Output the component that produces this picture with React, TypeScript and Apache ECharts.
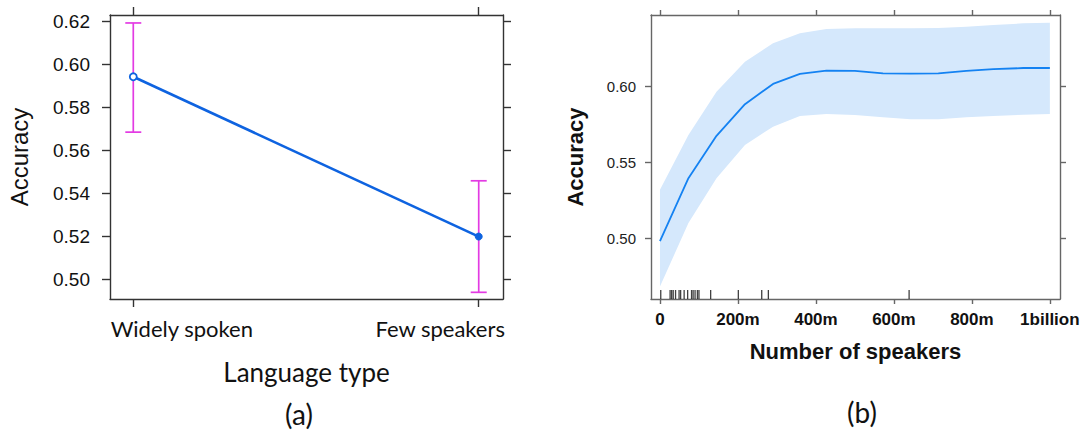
import React, { useEffect, useRef } from 'react';
import * as echarts from 'echarts';

// ---------- Panel (a): accuracy by language type ----------
const categories = ['Widely spoken', 'Few speakers'];
const catAccuracy = [0.5942, 0.52];
const catLower = [0.5685, 0.4941];
const catUpper = [0.6192, 0.5459];
const leftYTicks = [0.5, 0.52, 0.54, 0.56, 0.58, 0.6, 0.62];

// ---------- Panel (b): accuracy by number of speakers (millions) ----------
const speakers = [0, 73, 145, 218, 290, 359, 427, 500, 572, 643, 714, 786, 855, 932, 1000];
const fit = [0.498, 0.5396, 0.5675, 0.5884, 0.6018, 0.6084, 0.6106, 0.6104, 0.6088, 0.6086, 0.6088, 0.6104, 0.6115, 0.6123, 0.6123];
const fitUpper = [0.5319, 0.5681, 0.5967, 0.6165, 0.6286, 0.6352, 0.6381, 0.6385, 0.6385, 0.6385, 0.6387, 0.6395, 0.6407, 0.6418, 0.6422];
const fitLower = [0.4681, 0.5099, 0.5396, 0.5615, 0.5736, 0.5807, 0.582, 0.5813, 0.5798, 0.5785, 0.5785, 0.5798, 0.5807, 0.5815, 0.582];
const rugSpeakers = [2, 26, 30, 34, 40, 49, 53, 62, 71, 81, 85, 90, 96, 100, 130, 201, 261, 278, 639];
const rightYTicks = [0.5, 0.55, 0.6];
const rightXTicks = [0, 200, 400, 600, 800, 1000];
const rightXLabels = ['0', '200m', '400m', '600m', '800m', '1billion'];

const LEFT_Y_MIN = 0.491;
const LEFT_Y_MAX = 0.6229;
const RIGHT_Y_MIN = 0.4598;
const RIGHT_Y_MAX = 0.6473;

const ARIAL = '"Liberation Sans", Arial, sans-serif';
const CAL = 'Lato, "Open Sans", sans-serif';

export default function App() {
  const ref = useRef<HTMLDivElement>(null);

  useEffect(() => {
    document.body.style.margin = '0';
    if (!ref.current) return;
    const chart = echarts.init(ref.current, null, { renderer: 'svg' });

    const boxA = { color: '#333', width: 1.4 };
    const boxB = { color: '#666', width: 1.4 };

    const option: any = {
      animation: false,
      backgroundColor: '#ffffff',
      grid: [
        { left: 110, top: 15, width: 393, height: 284 },
        { left: 651, top: 15, width: 409, height: 284 },
      ],
      xAxis: [
        {
          gridIndex: 0,
          type: 'value',
          position: 'bottom',
          min: -0.0674,
          max: 1.0703,
          axisLine: { show: true, onZero: false, lineStyle: boxA },
          axisTick: { show: true, customValues: [0, 1], length: 8, lineStyle: boxA },
          axisLabel: {
            show: true,
            customValues: [0, 1],
            margin: 18,
            fontFamily: CAL,
            fontSize: 22,
            color: '#111',
            formatter: (v: number) => (Math.round(v) === 0 ? `{w|${categories[0]}}` : `{f|${categories[1]}}`),
            rich: {
              w: { fontFamily: CAL, fontSize: 22, color: '#111', padding: [0, 0, 0, 97] },
              f: { fontFamily: CAL, fontSize: 22, color: '#111', padding: [0, 77, 0, 0] },
            },
          },
          splitLine: { show: false },
          name: 'Language type',
          nameLocation: 'middle',
          nameGap: 60,
          nameTextStyle: { fontFamily: CAL, fontSize: 26, color: '#111' },
        },
        {
          gridIndex: 0,
          type: 'value',
          position: 'top',
          min: -0.0674,
          max: 1.0703,
          axisLine: { show: true, onZero: false, lineStyle: boxA },
          axisTick: { show: true, customValues: [0, 1], length: 8, lineStyle: boxA },
          axisLabel: { show: false },
          splitLine: { show: false },
        },
        {
          gridIndex: 1,
          type: 'value',
          position: 'bottom',
          min: -23,
          max: 1026,
          axisLine: { show: true, onZero: false, lineStyle: boxB },
          axisTick: { show: true, customValues: rightXTicks, length: 5, lineStyle: boxB },
          axisLabel: {
            show: true,
            customValues: rightXTicks,
            margin: 12,
            fontFamily: ARIAL,
            fontWeight: 'bold',
            fontSize: 17,
            color: '#111',
            formatter: (v: number) => rightXLabels[rightXTicks.indexOf(Math.round(v))] ?? '',
          },
          splitLine: { show: false },
          name: 'Number of speakers',
          nameLocation: 'middle',
          nameGap: 41,
          nameTextStyle: { fontFamily: ARIAL, fontWeight: 'bold', fontSize: 22, color: '#111' },
        },
        {
          gridIndex: 1,
          type: 'value',
          position: 'top',
          min: -23,
          max: 1026,
          axisLine: { show: true, onZero: false, lineStyle: boxB },
          axisTick: { show: true, customValues: rightXTicks, length: 5, lineStyle: boxB },
          axisLabel: { show: false },
          splitLine: { show: false },
        },
      ],
      yAxis: [
        {
          gridIndex: 0,
          type: 'value',
          position: 'left',
          min: LEFT_Y_MIN,
          max: LEFT_Y_MAX,
          axisLine: { show: true, onZero: false, lineStyle: boxA },
          axisTick: { show: true, customValues: leftYTicks, length: 8, lineStyle: boxA },
          axisLabel: {
            show: true,
            customValues: leftYTicks,
            margin: 20,
            fontFamily: ARIAL,
            fontSize: 19,
            color: '#111',
            formatter: (v: number) => v.toFixed(2),
          },
          splitLine: { show: false },
          name: 'Accuracy',
          nameLocation: 'middle',
          nameRotate: 90,
          nameGap: 79,
          nameTextStyle: { fontFamily: ARIAL, fontSize: 24, color: '#111' },
        },
        {
          gridIndex: 0,
          type: 'value',
          position: 'right',
          min: LEFT_Y_MIN,
          max: LEFT_Y_MAX,
          axisLine: { show: true, onZero: false, lineStyle: boxA },
          axisTick: { show: true, customValues: leftYTicks, length: 8, lineStyle: boxA },
          axisLabel: { show: false },
          splitLine: { show: false },
        },
        {
          gridIndex: 1,
          type: 'value',
          position: 'left',
          min: RIGHT_Y_MIN,
          max: RIGHT_Y_MAX,
          axisLine: { show: true, onZero: false, lineStyle: boxB },
          axisTick: { show: true, customValues: rightYTicks, length: 6, lineStyle: boxB },
          axisLabel: {
            show: true,
            customValues: rightYTicks,
            margin: 15,
            fontFamily: ARIAL,
            fontSize: 15,
            color: '#222',
            formatter: (v: number) => v.toFixed(2),
          },
          splitLine: { show: false },
          name: 'Accuracy',
          nameLocation: 'middle',
          nameRotate: 90,
          nameGap: 65,
          nameTextStyle: { fontFamily: ARIAL, fontWeight: 'bold', fontSize: 22, color: '#111' },
        },
        {
          gridIndex: 1,
          type: 'value',
          position: 'right',
          min: RIGHT_Y_MIN,
          max: RIGHT_Y_MAX,
          axisLine: { show: true, onZero: false, lineStyle: boxB },
          axisTick: { show: true, customValues: rightYTicks, length: 6, lineStyle: boxB },
          axisLabel: { show: false },
          splitLine: { show: false },
        },
      ],
      series: [
        {
          type: 'custom',
          name: 'ci',
          xAxisIndex: 0,
          yAxisIndex: 0,
          silent: true,
          data: categories.map((_, i) => [i, catLower[i], catUpper[i]]),
          renderItem: (_p: any, api: any) => {
            const x = api.value(0);
            const lo = api.coord([x, api.value(1)]);
            const hi = api.coord([x, api.value(2)]);
            const st = { stroke: '#e33be3', lineWidth: 1.7 };
            const cap = 8;
            return {
              type: 'group',
              children: [
                { type: 'line', shape: { x1: lo[0], y1: lo[1], x2: hi[0], y2: hi[1] }, style: st },
                { type: 'line', shape: { x1: hi[0] - cap, y1: hi[1], x2: hi[0] + cap, y2: hi[1] }, style: st },
                { type: 'line', shape: { x1: lo[0] - cap, y1: lo[1], x2: lo[0] + cap, y2: lo[1] }, style: st },
              ],
            };
          },
          z: 2,
        },
        {
          type: 'line',
          name: 'accuracy',
          xAxisIndex: 0,
          yAxisIndex: 0,
          symbol: 'circle',
          symbolSize: 7,
          lineStyle: { color: '#0e63e0', width: 2.6 },
          data: catAccuracy.map((v, i) => ({
            value: [i, v],
            itemStyle:
              i === 0
                ? { color: '#ffffff', borderColor: '#0e63e0', borderWidth: 1.8 }
                : { color: '#0e63e0', borderColor: '#0e63e0', borderWidth: 1 },
          })),
          z: 3,
        },
        {
          type: 'custom',
          name: 'band',
          xAxisIndex: 2,
          yAxisIndex: 2,
          silent: true,
          data: [[speakers[0], fit[0]]],
          renderItem: (_p: any, api: any) => {
            const up = speakers.map((x, i) => api.coord([x, fitUpper[i]]));
            const lo = speakers.map((x, i) => api.coord([x, fitLower[i]])).reverse();
            return {
              type: 'polygon',
              shape: { points: up.concat(lo) },
              style: { fill: '#d5e8fc', stroke: 'none' },
            };
          },
          z: 1,
        },
        {
          type: 'line',
          name: 'fit',
          xAxisIndex: 2,
          yAxisIndex: 2,
          showSymbol: false,
          symbol: 'none',
          lineStyle: { color: '#1482f2', width: 1.8 },
          data: speakers.map((x, i) => [x, fit[i]]),
          z: 3,
        },
        {
          type: 'scatter',
          name: 'rug',
          xAxisIndex: 2,
          yAxisIndex: 2,
          symbol: 'rect',
          symbolSize: [1.3, 9],
          symbolOffset: [0, -4.5],
          itemStyle: { color: '#111' },
          silent: true,
          data: rugSpeakers.map((x) => [x, RIGHT_Y_MIN]),
          z: 4,
        },
      ],
      graphic: [
        {
          type: 'text',
          x: 299,
          y: 414,
          style: { text: '(a)', fontFamily: CAL, fontSize: 28, fill: '#111', textAlign: 'center', textVerticalAlign: 'middle', align: 'center', verticalAlign: 'middle' },
        },
        {
          type: 'text',
          x: 862,
          y: 412,
          style: { text: '(b)', fontFamily: CAL, fontSize: 28, fill: '#111', textAlign: 'center', textVerticalAlign: 'middle', align: 'center', verticalAlign: 'middle' },
        },
      ],
    };

    chart.setOption(option);
    return () => chart.dispose();
  }, []);

  return <div ref={ref} style={{ width: 1087, height: 430 }} />;
}
